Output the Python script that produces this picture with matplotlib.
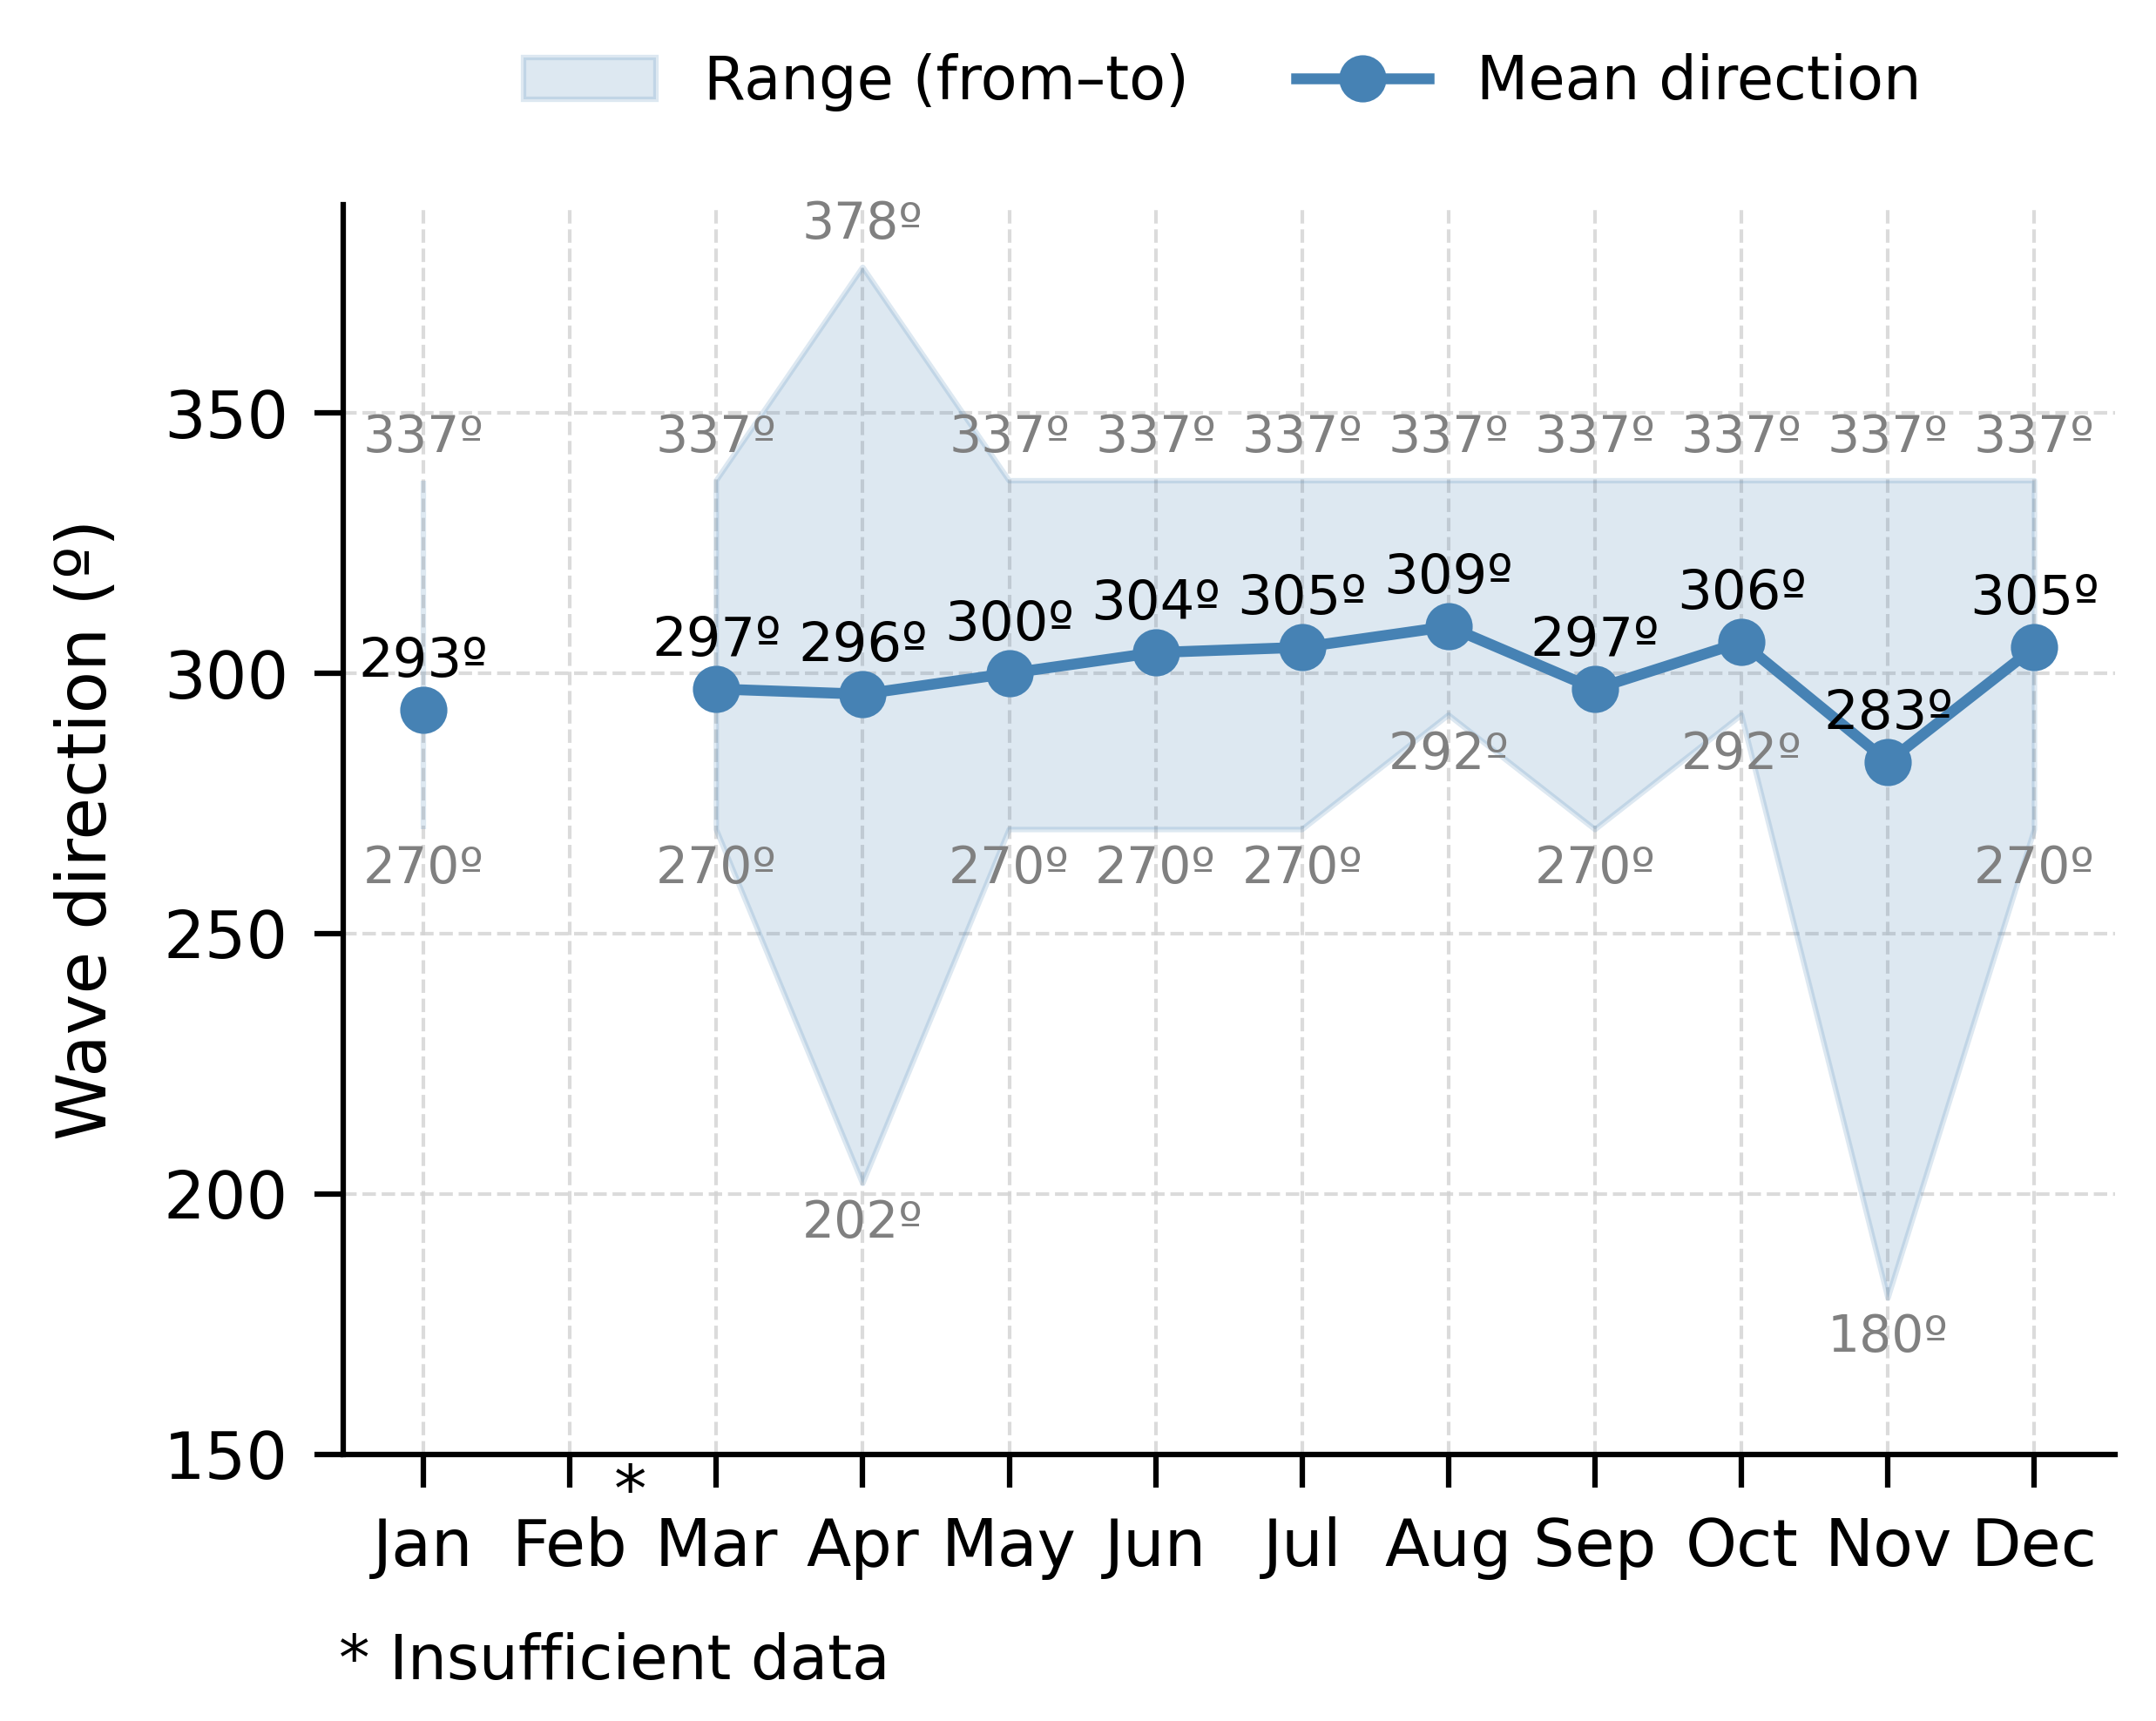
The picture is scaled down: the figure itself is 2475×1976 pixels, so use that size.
import numpy as np
import matplotlib
matplotlib.use("Agg")
import matplotlib.pyplot as plt
from matplotlib.patches import Patch
from matplotlib.lines import Line2D

months = ['Jan', 'Feb', 'Mar', 'Apr', 'May', 'Jun',
          'Jul', 'Aug', 'Sep', 'Oct', 'Nov', 'Dec']
mean_dir = [293, np.nan, 297, 296, 300, 304, 305, 309, 297, 306, 283, 305]
dir_from = [270, np.nan, 270, 202, 270, 270, 270, 292, 270, 292, 180, 270]
dir_to = [337, np.nan, 337, 378, 337, 337, 337, 337, 337, 337, 337, 337]
no_data = ['Feb']

col = 'steelblue'
x = np.arange(len(months))
mean_dir = np.array(mean_dir, dtype=float)
lo = np.array(dir_from, dtype=float)
hi = np.array(dir_to, dtype=float)

fig, ax = plt.subplots(figsize=(8.25, 1976 / 300), dpi=300)
fig.subplots_adjust(left=0.159, right=0.981, bottom=0.155, top=0.881)

ax.fill_between(x, lo, hi, color=col, alpha=0.18, linewidth=1.5, zorder=1)
ax.plot(x, mean_dir, '-o', color=col, lw=3, ms=12, zorder=3)

for i in range(len(months)):
    if np.isnan(mean_dir[i]):
        continue
    ax.annotate(f'{hi[i]:.0f}º', (x[i], hi[i]), xytext=(0, 5), textcoords='offset points',
                ha='center', va='bottom', fontsize=14, color='gray')
    ax.annotate(f'{lo[i]:.0f}º', (x[i], lo[i]), xytext=(0, -4), textcoords='offset points',
                ha='center', va='top', fontsize=14, color='gray')
    ax.annotate(f'{mean_dir[i]:.0f}º', (x[i], mean_dir[i]), xytext=(0, 6),
                textcoords='offset points', ha='center', va='bottom', fontsize=15, color='black',
                zorder=4)

ax.set_xlim(-0.55, 11.55)
ax.set_ylim(150, 390)
ax.set_yticks([150, 200, 250, 300, 350])
ax.set_xticks(x)
ax.set_xticklabels(months)
ax.tick_params(axis='both', labelsize=18, width=1.5, length=8)
ax.tick_params(axis='y', pad=7)
ax.tick_params(axis='x', length=9, pad=8)
ax.set_ylabel('Wave direction (º)', fontsize=19, labelpad=12)

ax.grid(True, linestyle='--', color='lightgray', lw=1, alpha=0.8)
ax.set_axisbelow(True)
for s in ['top', 'right']:
    ax.spines[s].set_visible(False)
for s in ['left', 'bottom']:
    ax.spines[s].set_linewidth(1.5)

# mark months without enough data
trans = ax.get_xaxis_transform()
for m in no_data:
    k = months.index(m)
    ax.text(k + 0.41, -0.031, '*', transform=trans, fontsize=18, ha='center', va='center')
fig.text(0.157, 0.034, '* Insufficient data', fontsize=17, ha='left', va='center')

handles = [Patch(facecolor=col, alpha=0.18, edgecolor=col, linewidth=1.5),
           Line2D([], [], color=col, lw=3, marker='o', ms=12)]
fig.legend(handles, ['Range (from–to)', 'Mean direction'], loc='center',
           bbox_to_anchor=(0.567, 0.952), ncol=2, frameon=False, fontsize=16.5,
           handlelength=2.2, columnspacing=1.8)

fig.savefig('out.png', dpi=300)
